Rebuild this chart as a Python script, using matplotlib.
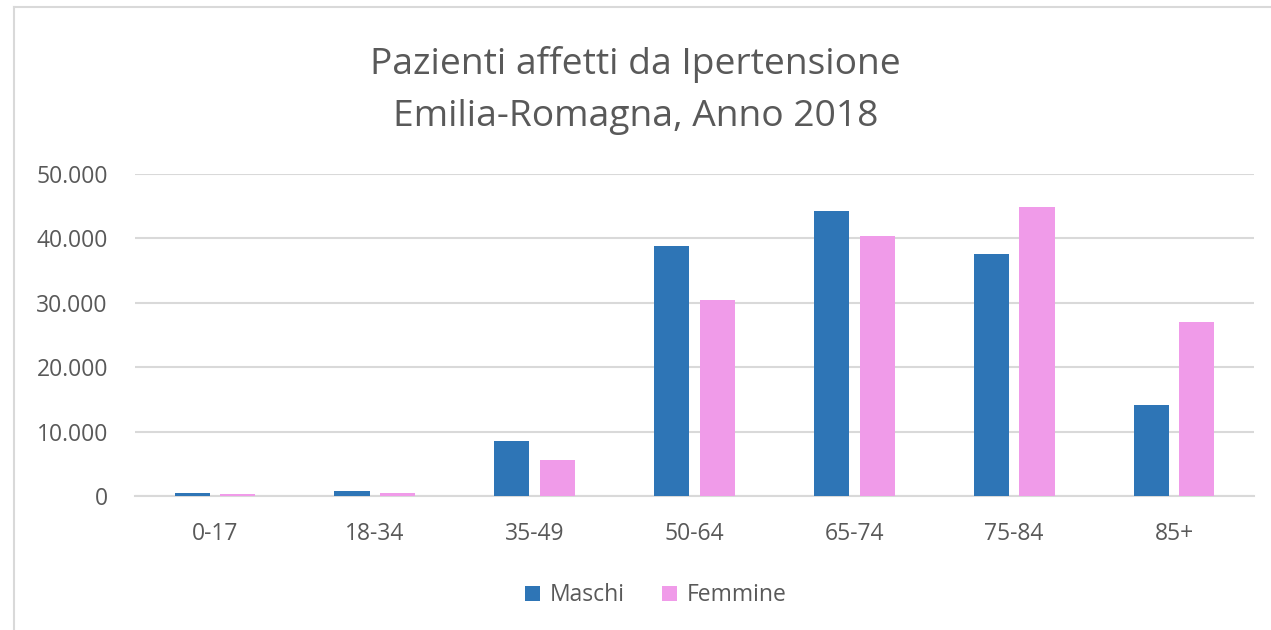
import matplotlib
matplotlib.use("Agg")
import matplotlib.pyplot as plt
from matplotlib.lines import Line2D
import numpy as np

GREY_TXT, GRID = "#595959", "#d9d9d9"
BLUE, PINK = "#2e75b6", "#f09be9"
plt.rcParams.update({"font.family": ["Open Sans", "DejaVu Sans"]})

classi = ["0-17", "18-34", "35-49", "50-64", "65-74", "75-84", "85+"]
maschi = [400, 800, 8500, 38800, 44300, 37600, 14100]
femmine = [300, 400, 5600, 30400, 40400, 44900, 27000]
yticks = [0, 10000, 20000, 30000, 40000, 50000]

W, GAP = 0.22, 0.065

fig = plt.figure(figsize=(12.71, 6.30), dpi=100)
ax = fig.add_axes([0.1062, 0.2127, 0.8804, 0.5111])
x = np.arange(len(classi))
ax.bar(x - (W + GAP) / 2, maschi, W, color=BLUE, label="Maschi", zorder=3)
ax.bar(x + (W + GAP) / 2, femmine, W, color=PINK, label="Femmine", zorder=3)

ax.set_xlim(-0.5, len(classi) - 0.5)
ax.set_ylim(0, 50000)
ax.set_yticks(yticks)
ax.set_yticklabels([f"{v:,}".replace(",", ".") for v in yticks])
ax.set_xticks(x)
ax.set_xticklabels(classi)
ax.yaxis.grid(True, color=GRID, lw=1.5, zorder=0)
ax.tick_params(length=0, labelsize=16.5, colors=GREY_TXT)
ax.tick_params(axis="y", pad=19.5)
ax.tick_params(axis="x", pad=19)
for s in ["top", "right", "left"]:
    ax.spines[s].set_visible(False)
ax.spines["bottom"].set_color(GRID)
ax.spines["bottom"].set_linewidth(1.5)

fig.text(0.5, 0.897, "Pazienti affetti da Ipertensione", ha="center", va="center",
         fontsize=26.8, color=GREY_TXT)
fig.text(0.5, 0.815, "Emilia-Romagna, Anno 2018", ha="center", va="center",
         fontsize=26.8, color=GREY_TXT)

fig.legend(loc="center", bbox_to_anchor=(0.516, 0.055), ncol=2, frameon=False,
           fontsize=16.5, labelcolor=GREY_TXT, handlelength=0.65, handleheight=0.65,
           columnspacing=1.6, handletextpad=0.45)

# chart frame (top and left edges visible)
fig.add_artist(Line2D([14 / 1271, 1], [1 - 7 / 630] * 2, transform=fig.transFigure,
                      color=GRID, lw=1.5))
fig.add_artist(Line2D([14 / 1271] * 2, [0, 1 - 7 / 630], transform=fig.transFigure,
                      color=GRID, lw=1.5))

fig.savefig("out.png", dpi=100)
